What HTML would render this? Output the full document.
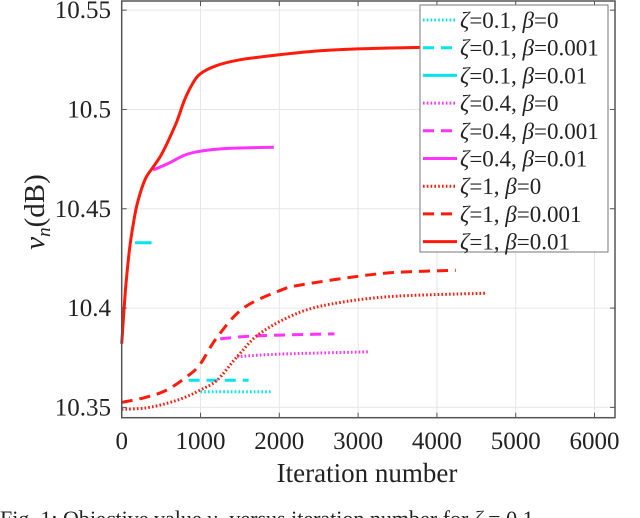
<!DOCTYPE html>
<html><head><meta charset="utf-8"><style>
html,body{margin:0;padding:0;background:#fff;width:640px;height:518px;overflow:hidden}
svg{display:block;font-family:"Liberation Serif",serif}
</style></head><body>
<svg id="chart" width="640" height="518" viewBox="0 0 640 518" xmlns="http://www.w3.org/2000/svg">
<g id="grid"></g>
<g id="series"></g>
<g id="axes"></g>
<text x="44" y="212" font-size="29" text-anchor="middle" transform="rotate(-90 44 212)" fill="#222"><tspan font-style="italic">v</tspan><tspan font-style="italic" font-size="19" dy="6">n</tspan><tspan dy="-6">(dB)</tspan></text>
<text x="367" y="482" font-size="27" text-anchor="middle" fill="#222">Iteration number</text>
<text x="0" y="526" font-size="22" fill="#222">Fig. 1: Objective value <tspan font-style="italic">v</tspan><tspan font-size="14" font-style="italic">n</tspan> versus iteration number for <tspan font-style="italic">ζ</tspan> = 0.1</text>
<g id="legend"></g>
</svg>
<script>
const xTicks=[0,1000,2000,3000,4000,5000,6000];
const yTicks=[10.35,10.4,10.45,10.5,10.55];
const yTickLabels=["10.35","10.4","10.45","10.5","10.55"];
const seriesNames=["ζ=0.1, β=0","ζ=0.1, β=0.001","ζ=0.1, β=0.01","ζ=0.4, β=0","ζ=0.4, β=0.001","ζ=0.4, β=0.01","ζ=1, β=0","ζ=1, β=0.001","ζ=1, β=0.01"];
const s01b0_x=[1000,1890]; const s01b0_y=[10.3579,10.3579];
const s01b001_x=[850,1610]; const s01b001_y=[10.3637,10.3637];
const s01b01_x=[170,380]; const s01b01_y=[10.4329,10.4329];
const s04b0_x=[1464,2000,3150]; const s04b0_y=[10.3755,10.3768,10.378];
const s04b001_x=[1250,1700,2700]; const s04b001_y=[10.3845,10.386,10.387];
const s04b01_x=[400,600,800,1000,1300,1930]; const s04b01_y=[10.4695,10.473,10.477,10.479,10.4803,10.481];
const s1b0_x=[0,300,570,800,1000,1210,1465,1760,2270,2800,3500,4630];
const s1b0_y=[10.349,10.3497,10.352,10.355,10.3588,10.3637,10.3755,10.3874,10.398,10.403,10.406,10.4075];
const s1b001_x=[0,300,570,845,1000,1214,1545,2020,2270,3000,3500,4240];
const s1b001_y=[10.3525,10.355,10.3587,10.366,10.372,10.3855,10.4,10.409,10.4116,10.416,10.418,10.419];
const s1b01_x=[0,50,100,150,200,300,400,500,600,700,800,900,1000,1200,1500,2000,2500,3000,3500,4200];
const s1b01_y=[10.382,10.41,10.43,10.443,10.453,10.465,10.471,10.477,10.485,10.494,10.505,10.513,10.518,10.522,10.525,10.5275,10.5295,10.5305,10.531,10.5315];
const C="#00e5ee",M="#ff33ff",R="#ff1a0a";
const styles=[[C,"dot"],[C,"dash"],[C,"solid"],[M,"dot"],[M,"dash"],[M,"solid"],[R,"dot"],[R,"dash"],[R,"solid"]];
const allX=[s01b0_x,s01b001_x,s01b01_x,s04b0_x,s04b001_x,s04b01_x,s1b0_x,s1b001_x,s1b01_x];
const allY=[s01b0_y,s01b001_y,s01b01_y,s04b0_y,s04b001_y,s04b01_y,s1b0_y,s1b001_y,s1b01_y];
const L=121.7,Rr=615,T=1,B=417.7;
const X0=0,X1=6260,Y0=10.3448,Y1=10.5546;
const sx=v=>L+(v-X0)/(X1-X0)*(Rr-L);
const sy=v=>B-(v-Y0)/(Y1-Y0)*(B-T);
const NS="http://www.w3.org/2000/svg";
function mk(t,a,p){const e=document.createElementNS(NS,t);for(const k in a)e.setAttribute(k,a[k]);p.appendChild(e);return e;}
const grid=document.getElementById('grid'),axes=document.getElementById('axes'),ser=document.getElementById('series'),leg=document.getElementById('legend');
mk('rect',{x:L,y:T,width:Rr-L,height:B-T,fill:'#fff'},grid);
xTicks.forEach(v=>{const x=sx(v);
 const g=mk('line',{x1:x,x2:x,y1:T,y2:B,stroke:'#e6e6e6','stroke-width':1},grid);
 
 
 mk('line',{x1:x,x2:x,y1:B,y2:B-5,stroke:'#555'},axes);mk('line',{x1:x,x2:x,y1:T,y2:T+5,stroke:'#555'},axes);
 const t=mk('text',{x:x,y:449,'font-size':25,'text-anchor':'middle',fill:'#222'},axes);t.textContent=v;
 
 });
yTicks.forEach((v,i)=>{const y=sy(v);
 const g=mk('line',{x1:L,x2:Rr,y1:y,y2:y,stroke:'#e6e6e6','stroke-width':1},grid);
 
 
 mk('line',{x1:L,x2:L+5,y1:y,y2:y,stroke:'#555'},axes);mk('line',{x1:Rr,x2:Rr-5,y1:y,y2:y,stroke:'#555'},axes);
 const t=mk('text',{x:111,y:y+8,'font-size':25,'text-anchor':'end',fill:'#222'},axes);t.textContent=yTickLabels[i];
 
 });
mk('rect',{x:L,y:T,width:Rr-L,height:B-T,fill:'none',stroke:'#555','stroke-width':1.5},axes);
function dash(s){return s==="dot"?"1.6 2.2":s==="dash"?"11 7":"none";}
function smooth(px,py){let d='M'+px[0].toFixed(1)+' '+py[0].toFixed(1);
 for(let j=0;j<px.length-1;j++){const i0=Math.max(0,j-1),i3=Math.min(px.length-1,j+2);
  const c1x=px[j]+(px[j+1]-px[i0])/6,c1y=py[j]+(py[j+1]-py[i0])/6;
  const c2x=px[j+1]-(px[i3]-px[j])/6,c2y=py[j+1]-(py[i3]-py[j])/6;
  d+=' C'+c1x.toFixed(1)+' '+c1y.toFixed(1)+' '+c2x.toFixed(1)+' '+c2y.toFixed(1)+' '+px[j+1].toFixed(1)+' '+py[j+1].toFixed(1);}
 return d;}
allX.forEach((xs,i)=>{const d=smooth(xs.map(sx),allY[i].map(sy));
 const p=mk('path',{d:d,fill:'none',stroke:styles[i][0],'stroke-width':3,'stroke-dasharray':dash(styles[i][1]),'stroke-linejoin':'round'},ser);
 
 });
mk('rect',{x:420,y:5,width:188,height:247,fill:'#fff',stroke:'#777','stroke-width':1},leg);
seriesNames.forEach((n,i)=>{const y=20+i*27.7;
 const l=mk('line',{x1:423,x2:457,y1:y,y2:y,stroke:styles[i][0],'stroke-width':3,'stroke-dasharray':dash(styles[i][1])},leg);
 
 
 const t=mk('text',{x:460,y:y+8,'font-size':23,fill:'#222'},leg);
 const parts=n.split(', ');
 t.innerHTML='<tspan font-style="italic">ζ</tspan>'+parts[0].slice(1)+', <tspan font-style="italic">β</tspan>'+parts[1].slice(1);
 
 });
</script>
</body></html>
